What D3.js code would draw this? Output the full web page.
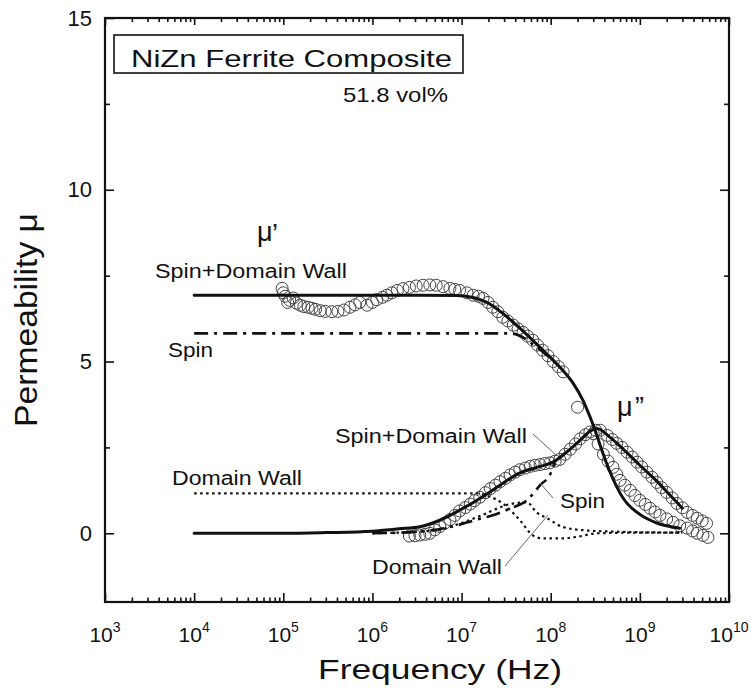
<!DOCTYPE html>
<html>
<head>
<meta charset="utf-8">
<script src="https://cdn.jsdelivr.net/npm/d3@7"></script>
<style>
  html, body { margin: 0; padding: 0; background: #fff; }
  svg { display: block; }
  text { font-family: "Liberation Sans", Arial, sans-serif; fill: #111; }
</style>
</head>
<body>
<svg id="chart" width="754" height="695"></svg>
<script>
// ---------- data (frequency in Hz, permeability) ----------
const xTickValues = [1e3, 1e4, 1e5, 1e6, 1e7, 1e8, 1e9, 1e10];
const xTickExponents = ["3", "4", "5", "6", "7", "8", "9", "10"];
const yTickValues = [0, 5, 10, 15];
const yTickLabels = ["0", "5", "10", "15"];

// fitted curves
const fitTotalReal = [[1e4,6.93],[3.2e6,6.93],[8.9e6,6.92],[1.26e7,6.88],[1.93e7,6.72],[2.9e7,6.40],[4.5e7,5.97],[7.6e7,5.41],[1.27e8,4.83],[1.78e8,4.37],[2.3e8,3.87],[2.75e8,3.4],[3.15e8,3.0],[3.6e8,2.55],[4.6e8,1.8],[6.5e8,1.02],[1e9,0.55],[1.55e9,0.3],[2.8e9,0.15]];
const fitTotalImag = [[1e4,0],[1e5,0],[3e5,0.02],[1e6,0.06],[2e6,0.13],[3.4e6,0.19],[5.7e6,0.38],[9.5e6,0.67],[1.62e7,1.02],[2.7e7,1.4],[4.5e7,1.76],[7e7,1.92],[1.06e8,2.07],[1.5e8,2.36],[2.14e8,2.71],[2.75e8,2.97],[3.3e8,3.05],[4.6e8,2.8],[6.5e8,2.45],[1e9,1.98],[1.55e9,1.52],[2.2e9,1.1],[3e9,0.73]];
const fitSpinReal = [[1e4,5.82],[3.5e7,5.82],[4.5e7,5.75],[6.3e7,5.5],[8.9e7,5.2],[1.26e8,4.85]];
const fitSpinImag = [[1e6,0],[3e6,0.04],[8e6,0.2],[1.4e7,0.38],[2.2e7,0.52],[3.5e7,0.72],[5.4e7,0.96],[7.6e7,1.4],[1e8,1.75],[1.1e8,2.05]];
const fitWallReal = [[1e4,1.16],[1.5e7,1.16],[2e7,1.08],[2.9e7,0.87],[4.5e7,0.38],[6.3e7,-0.06],[8.1e7,-0.15],[1.26e8,-0.15],[2e8,-0.1],[3.3e8,0],[1e9,0.02],[3e9,0.02]];
const fitWallImag = [[1e6,0],[5e6,0.08],[1e7,0.3],[1.6e7,0.5],[2.5e7,0.72],[3.5e7,0.85],[5.4e7,0.9],[7e7,0.6],[9.1e7,0.44],[1.38e8,0.18],[2.6e8,0.08],[5e8,0.05],[1e9,0.03],[3e9,0.02]];

// measured points
const measReal = [[9.7e4,7.13],[1.0e5,7.0],[1.05e5,6.9],[1.12e5,6.72],[1.18e5,6.78],[1.29e5,6.85],[1.4e5,6.7],[1.55e5,6.64],[1.7e5,6.6],[1.9e5,6.58],[2.1e5,6.55],[2.3e5,6.52],[2.6e5,6.48],[2.95e5,6.46],[3.5e5,6.45],[4.1e5,6.46],[4.8e5,6.5],[5.6e5,6.58],[6.4e5,6.65],[7.2e5,6.72],[8.7e5,6.64],[1.0e6,6.72],[1.12e6,6.8],[1.3e6,6.87],[1.45e6,6.93],[1.65e6,7.0],[1.9e6,7.07],[2.2e6,7.12],[2.6e6,7.16],[3.1e6,7.2],[3.7e6,7.22],[4.4e6,7.23],[5.2e6,7.22],[6.2e6,7.18],[7.4e6,7.13],[8.4e6,7.1],[9.5e6,7.07],[1.15e7,7.0],[1.35e7,6.93],[1.55e7,6.9],[1.74e7,6.84],[1.98e7,6.72],[2.24e7,6.58],[2.55e7,6.45],[2.9e7,6.29],[3.3e7,6.18],[3.8e7,6.06],[4.3e7,5.95],[4.9e7,5.85],[5.5e7,5.74],[6.3e7,5.62],[7.1e7,5.48],[8.1e7,5.33],[9.3e7,5.17],[1.07e8,5.0],[1.22e8,4.85],[1.38e8,4.7],[2e8,3.67],[3e8,2.9],[3.4e8,2.6],[3.9e8,2.3],[4.4e8,2.1],[5e8,1.92],[5.5e8,1.72],[6e8,1.54],[6.8e8,1.4],[7.8e8,1.25],[8.8e8,1.1],[1e9,0.96],[1.15e9,0.84],[1.3e9,0.73],[1.48e9,0.62],[1.68e9,0.52],[2e9,0.42],[2.36e9,0.32],[2.8e9,0.22],[3.4e9,0.15],[3.9e9,0.07],[4.4e9,0.0],[5.1e9,-0.06],[5.8e9,-0.12]];
const measImag = [[2.6e6,-0.08],[3.0e6,-0.07],[3.4e6,-0.05],[3.9e6,-0.03],[4.4e6,0.0],[5e6,0.1],[5.7e6,0.2],[6.5e6,0.3],[7.4e6,0.4],[8.4e6,0.52],[9.5e6,0.65],[1.1e7,0.75],[1.25e7,0.85],[1.4e7,0.95],[1.6e7,1.05],[1.85e7,1.18],[2.1e7,1.3],[2.4e7,1.4],[2.7e7,1.5],[3.1e7,1.6],[3.5e7,1.7],[4e7,1.78],[4.5e7,1.85],[5.2e7,1.9],[5.9e7,1.95],[6.7e7,1.98],[7.6e7,2.0],[8.6e7,2.03],[9.8e7,2.05],[1.12e8,2.1],[1.26e8,2.15],[1.45e8,2.3],[1.66e8,2.45],[1.9e8,2.6],[2.14e8,2.75],[2.45e8,2.87],[2.75e8,2.95],[3.2e8,3.0],[3.6e8,3.0],[4.3e8,2.85],[4.9e8,2.73],[5.5e8,2.62],[6.3e8,2.5],[7.2e8,2.36],[8.2e8,2.22],[9.3e8,2.07],[1.05e9,1.93],[1.2e9,1.78],[1.37e9,1.63],[1.55e9,1.48],[1.75e9,1.33],[2e9,1.19],[2.3e9,1.03],[2.6e9,0.87],[3e9,0.74],[3.4e9,0.61],[3.9e9,0.52],[4.4e9,0.44],[5e9,0.36],[5.6e9,0.29]];

// ---------- layout ----------
const plotLeft = 105, plotRight = 729, plotTop = 18, plotBottom = 602;
const svg = d3.select("#chart");
const x = d3.scaleLog().domain([1e3, 1e10]).range([plotLeft, plotRight]);
const y = d3.scaleLinear().domain([-2, 15]).range([plotBottom, plotTop]);

// minor ticks
const xMinor = [];
for (let e = 3; e < 10; e++) for (let m = 2; m <= 9; m++) xMinor.push(m * Math.pow(10, e));
const yMinor = [2.5, 7.5, 12.5];

function styleAxis(g) {
  g.select(".domain").remove();
  g.selectAll("line").attr("stroke", "#111").attr("stroke-width", 1.6);
}
// bottom
svg.append("g").attr("transform", `translate(0,${plotBottom})`)
  .call(d3.axisBottom(x).tickValues(xTickValues).tickSize(-9).tickFormat("")).call(styleAxis);
svg.append("g").attr("transform", `translate(0,${plotBottom})`)
  .call(d3.axisBottom(x).tickValues(xMinor).tickSize(-4.5).tickFormat("")).call(styleAxis);
// top
svg.append("g").attr("transform", `translate(0,${plotTop})`)
  .call(d3.axisTop(x).tickValues(xTickValues).tickSize(-7).tickFormat("")).call(styleAxis);
svg.append("g").attr("transform", `translate(0,${plotTop})`)
  .call(d3.axisTop(x).tickValues(xMinor).tickSize(-4).tickFormat("")).call(styleAxis);
// left
svg.append("g").attr("transform", `translate(${plotLeft},0)`)
  .call(d3.axisLeft(y).tickValues(yTickValues).tickSize(-9).tickPadding(13).tickFormat((d, i) => yTickLabels[i]))
  .call(styleAxis)
  .call(g => g.selectAll("text").attr("font-size", 22).attr("fill", "#111")
    .style("font-family", '"Liberation Sans", Arial, sans-serif'));
svg.append("g").attr("transform", `translate(${plotLeft},0)`)
  .call(d3.axisLeft(y).tickValues(yMinor).tickSize(-5).tickFormat("")).call(styleAxis);
// right
svg.append("g").attr("transform", `translate(${plotRight},0)`)
  .call(d3.axisRight(y).tickValues(yTickValues).tickSize(-9).tickFormat("")).call(styleAxis);
svg.append("g").attr("transform", `translate(${plotRight},0)`)
  .call(d3.axisRight(y).tickValues(yMinor).tickSize(-5).tickFormat("")).call(styleAxis);

// frame
svg.append("rect").attr("x", plotLeft).attr("y", plotTop).attr("width", plotRight - plotLeft).attr("height", plotBottom - plotTop)
  .attr("fill", "none").attr("stroke", "#111").attr("stroke-width", 2.2);

// x tick labels with superscripts
const xl = svg.append("g");
xTickValues.forEach((v, i) => {
  const t = xl.append("text").attr("x", x(v)).attr("y", 642).attr("text-anchor", "middle").attr("font-size", 21);
  t.append("tspan").text("10");
  t.append("tspan").attr("dy", -10).attr("font-size", 14).text(xTickExponents[i]);
});

// axis titles
svg.append("text").attr("x", 440).attr("y", 679).attr("text-anchor", "middle")
  .attr("font-size", 27).attr("textLength", 244).attr("lengthAdjust", "spacingAndGlyphs").text("Frequency (Hz)");
svg.append("text").attr("transform", "translate(37,320) rotate(-90)").attr("text-anchor", "middle")
  .attr("font-size", 31).attr("textLength", 214).attr("lengthAdjust", "spacingAndGlyphs").text("Permeability μ");

// ---------- curves ----------
const line = d3.line().x(d => x(d[0])).y(d => y(d[1])).curve(d3.curveMonotoneX);
const plot = svg.append("g");
function drawCurve(data, dash, width) {
  plot.append("path").datum(data).attr("d", line).attr("fill", "none")
    .attr("stroke", "#111").attr("stroke-width", width)
    .attr("stroke-dasharray", dash).attr("stroke-linecap", dash ? "butt" : "round")
    .attr("stroke-linejoin", "round");
}

// measured circles
function drawCircles(data) {
  plot.append("g").selectAll("circle").data(data).join("circle")
    .attr("cx", d => x(d[0])).attr("cy", d => y(d[1])).attr("r", 6)
    .attr("fill", "none").attr("stroke", "#444").attr("stroke-width", 1);
}
drawCircles(measReal);
drawCircles(measImag);

drawCurve(fitWallReal, "2.5,3.5", 2.2);
drawCurve(fitWallImag, "2.5,3.5", 2.2);
drawCurve(fitSpinReal, "14,6,3,6", 2.6);
drawCurve(fitSpinImag, "14,6,3,6", 2.6);
drawCurve(fitTotalReal, null, 3);
drawCurve(fitTotalImag, null, 3);

// ---------- annotations ----------
const ann = svg.append("g");
function label(txt, x0, yb, size, len) {
  const t = ann.append("text").attr("x", x0).attr("y", yb).attr("font-size", size).text(txt);
  if (len) t.attr("textLength", len).attr("lengthAdjust", "spacingAndGlyphs");
  return t;
}
// title box
ann.append("rect").attr("x", 114).attr("y", 35).attr("width", 349).attr("height", 38)
  .attr("fill", "#fff").attr("stroke", "#111").attr("stroke-width", 1.6);
label("NiZn Ferrite Composite", 131, 67, 24, 321);
label("51.8 vol%", 343, 102, 21, 105);

label("Spin+Domain Wall", 155, 278, 20, 192);
label("Spin", 168, 357, 20, 45);
label("Domain Wall", 172, 485, 20, 130);
label("Spin+Domain Wall", 335, 443, 20, 192);
label("Spin", 560, 508, 20, 45);
label("Domain Wall", 372, 574, 20, 130);

// mu labels
label("μ", 257, 241, 27);
label("’", 272, 243, 27);
label("μ", 617, 416, 27);
label("”", 635, 416, 27);

// leader lines
const leaders = [[[533,434],[557,456]], [[553,498],[540,483]], [[505,566],[548,515]]];
leaders.forEach(l => ann.append("line").attr("x1", l[0][0]).attr("y1", l[0][1]).attr("x2", l[1][0]).attr("y2", l[1][1])
  .attr("stroke", "#666").attr("stroke-width", 1));
</script>
</body>
</html>
